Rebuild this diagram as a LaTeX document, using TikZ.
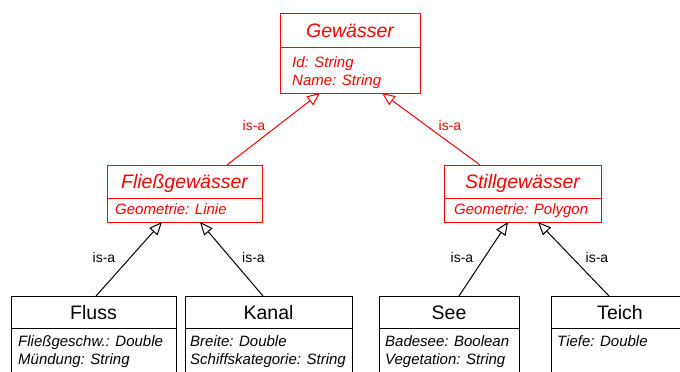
\documentclass[tikz,border=0pt]{standalone}
\usepackage{fontspec}
\setmainfont{Liberation Sans}
\usetikzlibrary{arrows.meta,positioning}

\tikzset{
  classtitle/.style={draw, line width=1pt, inner sep=0pt, outer sep=0pt,
    text height=14pt, text depth=0pt, font=\fontsize{19.5}{22}\selectfont},
  abstract/.style={red, font=\itshape\fontsize{19.5}{22}\selectfont},
  attrbox/.style={draw, line width=1pt, inner sep=0pt, outer sep=0pt},
  attrs/.style={anchor=north west, align=left, inner sep=0pt,
    font=\itshape\fontsize{15}{18}\selectfont},
  isa/.style={line width=1pt, -{Triangle[open, length=13pt, width=11pt]}},
  isalabel/.style={inner sep=0pt, font=\fontsize{14}{16}\selectfont},
}

\begin{document}
\begin{tikzpicture}[x=1pt, y=-1pt]
    \useasboundingbox (0,0) rectangle (680,372);
    \clip (0,0) rectangle (680,372);

    % Gewaesser
    \node[classtitle, abstract, minimum width=140pt, minimum height=34pt, anchor=north] (gewaesser) at (350,13) {Gewässer};
    \node[attrbox, red, minimum width=140pt, minimum height=46pt, below=0pt of gewaesser] (gewaesser-attr) {};
    \node[attrs, red] (gewaesser-text) at (292,56) {Id: String\\Name: String};

    % Fliessgewaesser
    \node[classtitle, abstract, minimum width=155pt, minimum height=33pt, anchor=north] (fliess) at (184.5,165) {Fließgewässer};
    \node[attrbox, red, minimum width=155pt, minimum height=24pt, below=0pt of fliess] (fliess-attr) {};
    \node[attrs, red] (fliess-text) at (115,203) {Geometrie: Linie};

    % Stillgewaesser
    \node[classtitle, abstract, minimum width=157pt, minimum height=33pt, anchor=north] (still) at (522.5,165) {Stillgewässer};
    \node[attrbox, red, minimum width=157pt, minimum height=24pt, below=0pt of still] (still-attr) {};
    \node[attrs, red] (still-text) at (454,203) {Geometrie: Polygon};

    % Fluss
    \node[classtitle, minimum width=165pt, minimum height=32pt, anchor=north] (fluss) at (93.5,296) {Fluss};
    \node[attrbox, minimum width=165pt, minimum height=60pt, below=0pt of fluss] (fluss-attr) {};
    \node[attrs] (fluss-text) at (18,335) {Fließgeschw.: Double\\Mündung: String};

    % Kanal
    \node[classtitle, minimum width=167pt, minimum height=32pt, anchor=north] (kanal) at (268.5,296) {Kanal};
    \node[attrbox, minimum width=167pt, minimum height=60pt, below=0pt of kanal] (kanal-attr) {};
    \node[attrs] (kanal-text) at (190,335) {Breite: Double\\Schiffskategorie: String};

    % See
    \node[classtitle, minimum width=140pt, minimum height=32pt, anchor=north] (see) at (449,296) {See};
    \node[attrbox, minimum width=140pt, minimum height=60pt, below=0pt of see] (see-attr) {};
    \node[attrs] (see-text) at (385,335) {Badesee: Boolean\\Vegetation: String};

    % Teich
    \node[classtitle, minimum width=138pt, minimum height=32pt, anchor=north] (teich) at (620,296) {Teich};
    \node[attrbox, minimum width=138pt, minimum height=60pt, below=0pt of teich] (teich-attr) {};
    \node[attrs] (teich-text) at (557,335) {Tiefe: Double};

    % Generalisations
    \draw[isa, red] ([xshift=42.5pt]fliess.north) -- ([xshift=-30pt]gewaesser-attr.south)
        node[isalabel, midway, xshift=-19.5pt, yshift=4pt] (isa-fliess) {is-a};
    \draw[isa, red] ([xshift=-42.5pt]still.north) -- ([xshift=32pt]gewaesser-attr.south)
        node[isalabel, midway, xshift=19pt, yshift=4pt] (isa-still) {is-a};
    \draw[isa] ([xshift=2.5pt]fluss.north) -- ([xshift=-22.5pt]fliess-attr.south)
        node[isalabel, midway, xshift=-25pt, yshift=2pt] (isa-fluss) {is-a};
    \draw[isa] ([xshift=-5.5pt]kanal.north) -- ([xshift=15.5pt]fliess-attr.south)
        node[isalabel, midway, xshift=22pt, yshift=2pt] (isa-kanal) {is-a};
    \draw[isa] ([xshift=10pt]see.north) -- ([xshift=-14.5pt]still-attr.south)
        node[isalabel, midway, xshift=-21.5pt, yshift=2pt] (isa-see) {is-a};
    \draw[isa] ([xshift=-11pt]teich.north) -- ([xshift=15.5pt]still-attr.south)
        node[isalabel, midway, xshift=23.5pt, yshift=2pt] (isa-teich) {is-a};
\end{tikzpicture}
\end{document}
